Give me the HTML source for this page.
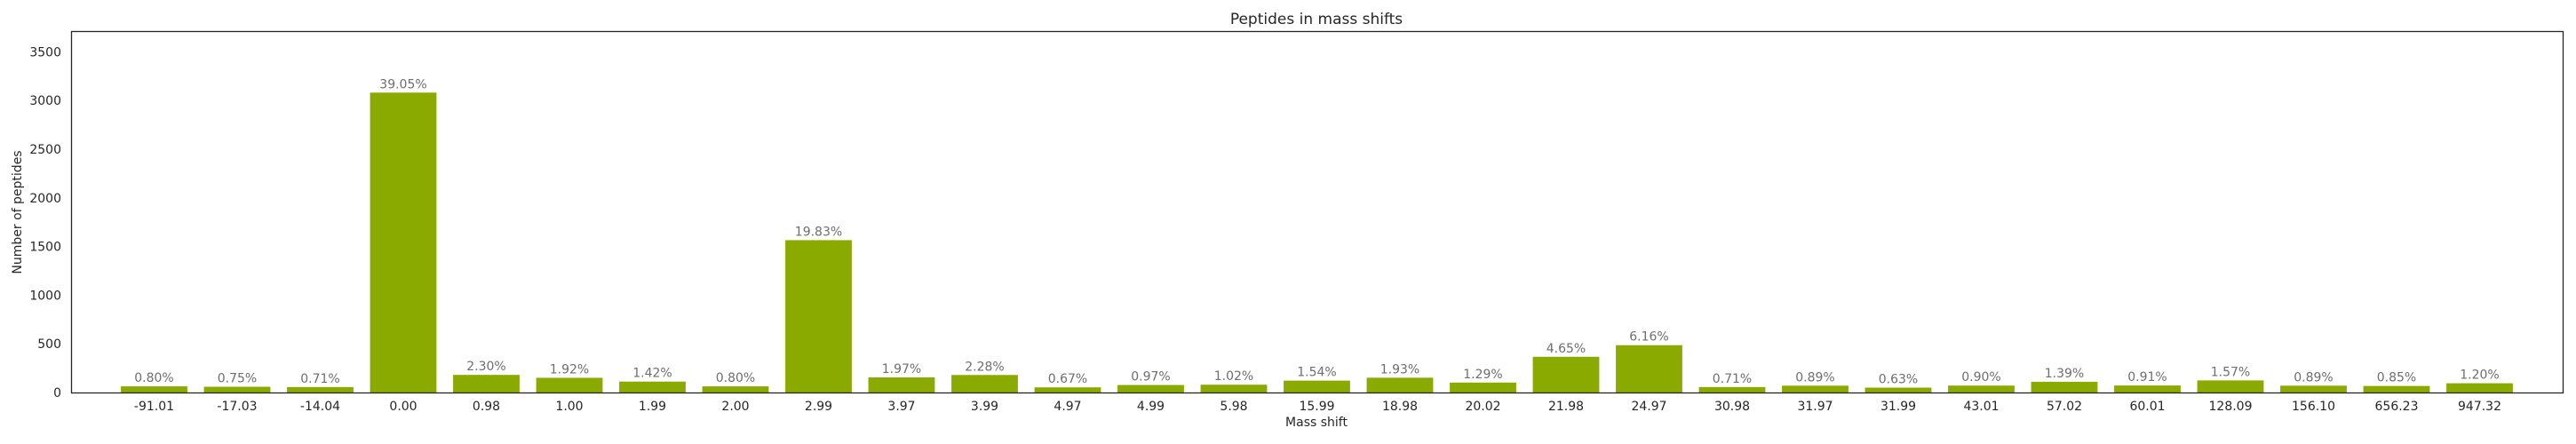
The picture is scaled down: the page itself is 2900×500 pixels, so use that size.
<!DOCTYPE html>
<html><head><meta charset="utf-8"><style>
html,body{margin:0;padding:0;background:#fff;}
svg{display:block;font-family:"DejaVu Sans","Liberation Sans",sans-serif;}
</style></head><body>
<svg id="chart" width="2900" height="500">
<rect x="0" y="0" width="2900" height="500" fill="#fff"/>
<text x="1482" y="27" font-size="17" fill="#262626" text-anchor="middle">Peptides in mass shifts</text>
<text x="1482" y="480" font-size="14" fill="#262626" text-anchor="middle">Mass shift</text>
<text transform="translate(24,239) rotate(-90)" font-size="14" fill="#262626" text-anchor="middle">Number of peptides</text>
<g id="bars"></g>
<g id="yticks"></g>
<g id="xticks"></g>
<rect x="80.5" y="35.5" width="2805" height="407" fill="none" stroke="#262626" stroke-width="1.3"/>
</svg>
<script>
const categories = ["-91.01","-17.03","-14.04","0.00","0.98","1.00","1.99","2.00","2.99","3.97","3.99","4.97","4.99","5.98","15.99","18.98","20.02","21.98","24.97","30.98","31.97","31.99","43.01","57.02","60.01","128.09","156.10","656.23","947.32"];
const counts = [63,59,56,3081,181,151,112,63,1565,155,180,53,77,80,122,152,102,367,486,56,70,50,71,110,72,124,70,67,95];
const percentLabels = ["0.80%","0.75%","0.71%","39.05%","2.30%","1.92%","1.42%","0.80%","19.83%","1.97%","2.28%","0.67%","0.97%","1.02%","1.54%","1.93%","1.29%","4.65%","6.16%","0.71%","0.89%","0.63%","0.90%","1.39%","0.91%","1.57%","0.89%","0.85%","1.20%"];
const yTicks = [0,500,1000,1500,2000,2500,3000,3500];

const L=80, R=2885, T=35, B=442, YMAX=3713;
const XMIN=-1, XMAX=categories.length;
function xs(i){return L+(i-XMIN)/(XMAX-XMIN)*(R-L);}
function ys(v){return B-v/YMAX*(B-T);}
const NS="http://www.w3.org/2000/svg";
const step=(R-L)/(XMAX-XMIN), bw=step*0.8;
const gb=document.getElementById('bars'), gy=document.getElementById('yticks'), gx=document.getElementById('xticks');
counts.forEach((v,i)=>{
  const r=document.createElementNS(NS,'rect');
  r.setAttribute('x',xs(i)-bw/2);r.setAttribute('y',ys(v));
  r.setAttribute('width',bw);r.setAttribute('height',B-ys(v));
  r.setAttribute('fill','#8aaa00');
  
  
  gb.appendChild(r);
  const t=document.createElementNS(NS,'text');
  t.setAttribute('x',xs(i));t.setAttribute('y',ys(v)-5);
  t.setAttribute('text-anchor','middle');t.setAttribute('font-size','14');t.setAttribute('fill','#6e6e6e');
  t.textContent=percentLabels[i];
  
  
  gb.appendChild(t);
  const xt=document.createElementNS(NS,'text');
  xt.setAttribute('x',xs(i));xt.setAttribute('y',462);
  xt.setAttribute('text-anchor','middle');xt.setAttribute('font-size','14');xt.setAttribute('fill','#262626');
  xt.textContent=categories[i];
  
  
  gx.appendChild(xt);
});
yTicks.forEach(v=>{
  const t=document.createElementNS(NS,'text');
  t.setAttribute('x',L-11);t.setAttribute('y',ys(v)+5);
  t.setAttribute('text-anchor','end');t.setAttribute('font-size','14');t.setAttribute('fill','#262626');
  t.textContent=v;
  
  
  gy.appendChild(t);
});
</script>
</body></html>
